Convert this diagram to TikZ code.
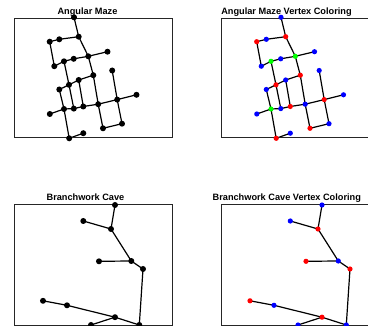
\documentclass[tikz,border=0pt]{standalone}
\usepackage{fontspec}
\setmainfont{Liberation Sans}
\pgfdeclarelayer{background}
\pgfsetlayers{background,main}
\tikzset{
  axbox/.style={draw=black!85, line width=0.8pt},
  bdot/.style={circle, fill=black, inner sep=0pt, minimum size=6pt},
  cdot/.style={circle, inner sep=0pt, minimum size=5.2pt},
  edge/.style={line width=1.2pt, black},
  ttl/.style={anchor=base, font=\bfseries\fontsize{9.2}{10}\selectfont, inner sep=0pt}
}
\begin{document}
\begin{tikzpicture}[x=1pt,y=-1pt]
\useasboundingbox (0,0) rectangle (368,326);
\clip (0,0) rectangle (368,326);
% axes boxes
\draw[axbox] (14.3,18) rectangle (172.3,137.7);
\draw[axbox] (221.3,18) rectangle (380,137.7);
\draw[axbox] (14.3,204.7) rectangle (172.3,325);
\draw[axbox] (221.3,204.7) rectangle (380,325);
% titles
\node[ttl] (t1) at (87.5,14.2) {Angular Maze};
\node[ttl] (t2) at (286.5,14.2) {Angular Maze Vertex Coloring};
\node[ttl] (t3) at (85.5,200.7) {Branchwork Cave};
\node[ttl] (t4) at (286.8,200.7) {Branchwork Cave Vertex Coloring};
% maze nodes
\foreach \n/\px/\py/\c in {
  t/74/17.3/blue, a1/49.7/41.7/red, a2/59.3/39.3/blue, a3/78.7/36.7/red,
  b1/54.3/66.2/blue, b2/64/61.3/green, b3/73.7/58.8/blue, b4/88.3/56.3/green, b5/107.5/51.7/blue,
  c1/59.3/89.5/blue, c2/69/84.8/red, c3/78.7/80/blue, c4/93.3/75.2/red, c5/112.2/70.5/blue,
  d0/49.8/114/blue, d1/64/109/green, d2/73.8/108.6/blue, d3/83.3/106.5/red, d4/98.2/104.2/blue,
  d5/117.2/99.6/red, d6/136.5/94.8/blue,
  e1/103/128.3/red, e2/122/123.7/blue, f1/69.2/138.3/red, f2/83.3/133.2/blue}{
  \node[bdot] (m-\n) at (\px,\py) {};
  \node[cdot, fill=\c] (mc-\n) at (\px+207,\py) {};
}
% cave nodes
\foreach \n/\px/\py/\c in {
  t/115/205/blue, u/83.3/221/blue, v/111/229/red, w/99/261.3/red, x/131.3/261/blue,
  y/143/269/red, p/43/300.8/red, q/67/305.3/blue, r/115/317.2/red, s/91/325/blue, z/139.3/325/blue}{
  \node[bdot] (k-\n) at (\px,\py) {};
  \node[cdot, fill=\c] (kc-\n) at (\px+207,\py) {};
}
\begin{pgfonlayer}{background}
\foreach \a/\b in {t/a3, a1/a2, a2/a3, a1/b1, a3/b4, b1/b2, b2/b3, b3/b4, b4/b5,
  b2/c2, b4/c4, c1/c2, c2/c3, c3/c4, c4/d4, c5/d5, c1/d1, c2/d2, c3/d3,
  d0/d1, d1/d2, d2/d3, d3/d4, d4/d5, d5/d6, d4/e1, d5/e2, e1/e2, d1/f1, f1/f2}{
  \draw[edge] (m-\a.center) -- (m-\b.center);
  \draw[edge] (mc-\a.center) -- (mc-\b.center);
}
\foreach \a/\b in {t/v, u/v, v/x, w/x, x/y, y/z, p/q, q/r, r/z, s/r}{
  \draw[edge] (k-\a.center) -- (k-\b.center);
  \draw[edge] (kc-\a.center) -- (kc-\b.center);
}
\end{pgfonlayer}
\end{tikzpicture}
\end{document}
